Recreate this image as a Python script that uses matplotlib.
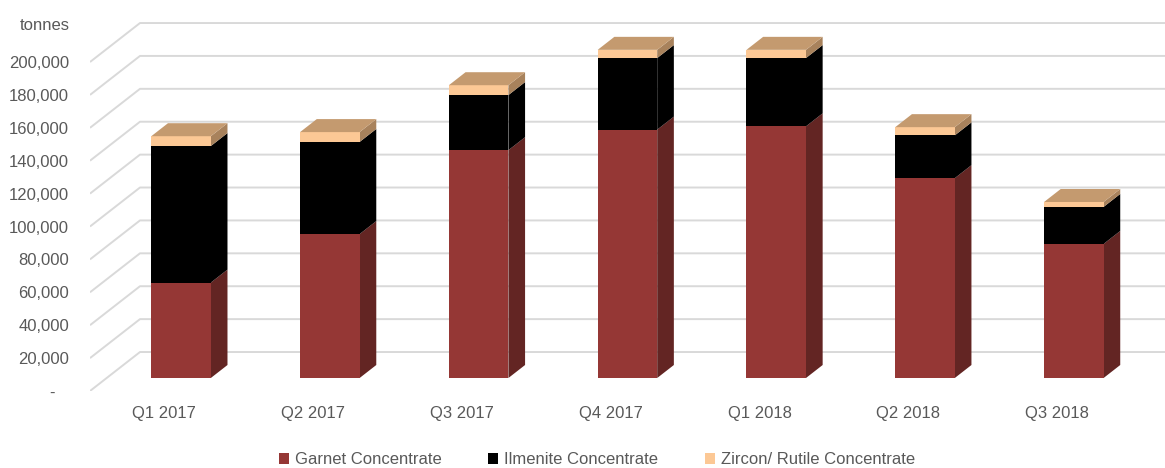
import matplotlib.pyplot as plt
from matplotlib.patches import Polygon, Patch

quarters = ["Q1 2017", "Q2 2017", "Q3 2017", "Q4 2017", "Q1 2018", "Q2 2018", "Q3 2018"]
garnet = [58000, 87500, 138500, 151000, 153000, 121500, 81500]
ilmenite = [83000, 56000, 33500, 43500, 41500, 26000, 22500]
zircon = [6000, 6000, 6000, 5000, 5000, 5000, 3000]

series_names = ["Garnet Concentrate", "Ilmenite Concentrate", "Zircon/ Rutile Concentrate"]
front_colors = ["#953735", "#000000", "#FCC895"]
side_colors = ["#632523", "#000000", "#A8825C"]
top_color = "#C49A6F"
grid_color = "#D9D9D9"
text_color = "#595959"

# oblique depth offset (full depth of the floor) in data units
DX = 0.336
DY = 23700
bar_w = 0.40
d0, d1 = 1 / 3, 2 / 3


def proj(x, y, d):
    return (x + d * DX, y + d * DY)


plt.rcParams['font.family'] = ['Liberation Sans', 'DejaVu Sans']

fig = plt.figure(figsize=(11.65, 4.68), dpi=100)
W, H = 1165, 468
ax = fig.add_axes([90 / W, 77 / H, (W - 90) / W, 391 / H])
xmax = (W - 163) / 149
ax.set_xlim(-0.5, xmax)
ax.set_ylim(0, 237700)
for s in ax.spines.values():
    s.set_visible(False)

# gridlines: left wall diagonal + back wall horizontal
yvals = list(range(0, 200001, 20000))
for v in yvals:
    pts = [proj(-0.5, v, 0), proj(-0.5, v, 1), proj(xmax + 1, v, 1)]
    ax.plot([p[0] for p in pts], [p[1] for p in pts], color=grid_color,
            lw=1.4, zorder=1, solid_capstyle='butt')

# stacked 3d bars
for i in range(len(quarters)):
    vals = [garnet[i], ilmenite[i], zircon[i]]
    x0 = i - bar_w / 2
    x1 = i + bar_w / 2
    bottom = 0
    for k, v in enumerate(vals):
        top = bottom + v
        front = [proj(x0, bottom, d0), proj(x1, bottom, d0),
                 proj(x1, top, d0), proj(x0, top, d0)]
        side = [proj(x1, bottom, d0), proj(x1, bottom, d1),
                proj(x1, top, d1), proj(x1, top, d0)]
        ax.add_patch(Polygon(side, closed=True, facecolor=side_colors[k],
                             edgecolor='none', zorder=3))
        ax.add_patch(Polygon(front, closed=True, facecolor=front_colors[k],
                             edgecolor='none', zorder=4))
        bottom = top
    lid = [proj(x0, bottom, d0), proj(x1, bottom, d0),
           proj(x1, bottom, d1), proj(x0, bottom, d1)]
    ax.add_patch(Polygon(lid, closed=True, facecolor=top_color,
                         edgecolor='none', zorder=4))

ax.set_yticks(yvals)
ax.set_yticklabels(["-   "] + [f"{v:,}" for v in yvals[1:]])
ax.set_xticks(range(len(quarters)))
ax.set_xticklabels(quarters)
ax.tick_params(axis='y', length=0, pad=15, labelsize=12, labelcolor=text_color)
ax.tick_params(axis='x', length=0, pad=11, labelsize=12, labelcolor=text_color)

fig.text(70 / W, 1 - 25 / H, "tonnes", ha='right', va='center',
         fontsize=12, color=text_color)

handles = [Patch(facecolor=c, edgecolor='none') for c in front_colors]
fig.legend(handles, series_names, loc='center', bbox_to_anchor=(597 / W, 1 - 460 / H),
           ncol=3, frameon=False, fontsize=12, labelcolor=text_color,
           handlelength=0.6, handleheight=0.6, handletextpad=0.35,
           columnspacing=2.8)

fig.savefig("out.png", dpi=100)
